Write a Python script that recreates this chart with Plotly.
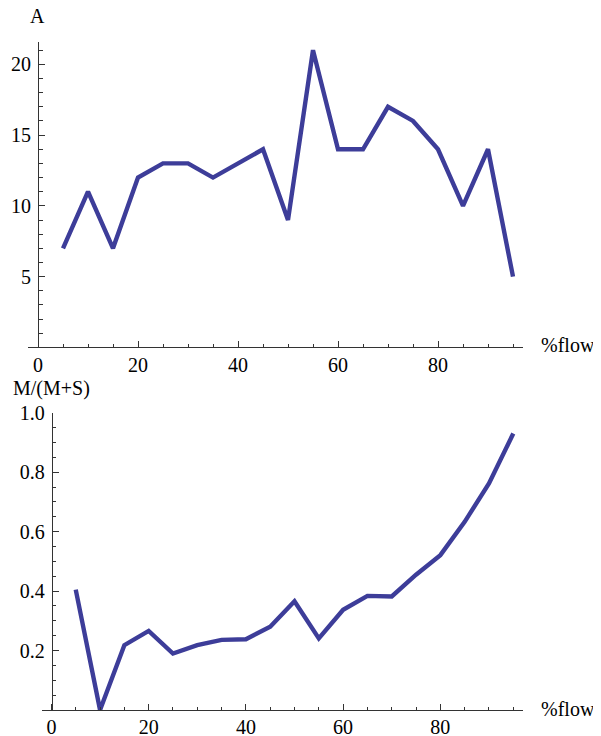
import plotly.graph_objects as go

flow = [5, 10, 15, 20, 25, 30, 35, 40, 45, 50, 55, 60, 65, 70, 75, 80, 85, 90, 95]
a_vals = [7, 11, 7, 12, 13, 13, 12, 13, 14, 9, 21, 14, 14, 17, 16, 14, 10, 14, 5]
ratio_vals = [0.405, 0.0, 0.218, 0.266, 0.19, 0.218, 0.236, 0.238, 0.28, 0.366, 0.241,
              0.337, 0.384, 0.382, 0.455, 0.521, 0.633, 0.762, 0.93]
x_ticks = [0, 20, 40, 60, 80]
top_y_ticks = [5, 10, 15, 20]
bot_y_ticks = [0.2, 0.4, 0.6, 0.8, 1.0]

OFF = 8  # page body margin
W, H = 601 - OFF, 736 - OFF
LINE = "rgb(61,61,153)"
AX = "#333333"
FONT = dict(family="Liberation Serif", size=20, color="black")

def px_x(p):
    return (p - OFF) / W

def px_y(p):
    return 1 - (p - OFF) / H

fig = go.Figure()
fig.add_trace(go.Scatter(x=flow, y=a_vals, mode="lines", xaxis="x", yaxis="y",
                         line=dict(color=LINE, width=4.4), cliponaxis=False, showlegend=False))
fig.add_trace(go.Scatter(x=flow, y=ratio_vals, mode="lines", xaxis="x2", yaxis="y2",
                         line=dict(color=LINE, width=4.4), cliponaxis=False, showlegend=False))

common_x = dict(showline=True, linecolor=AX, linewidth=1, ticks="inside", ticklen=6,
                tickcolor=AX, tickwidth=1, showgrid=False, zeroline=False, automargin=False,
                tickfont=FONT, tickvals=x_ticks, range=[-2, 97],
                minor=dict(ticks="inside", ticklen=3.5, tickcolor=AX, tickwidth=1,
                           tickvals=list(range(5, 100, 5))))

common_y = dict(showline=True, linecolor=AX, linewidth=1, ticks="inside", ticklen=6,
                tickcolor=AX, tickwidth=1, showgrid=False, zeroline=False, automargin=False,
                tickfont=FONT, anchor="free", ticklabelstandoff=3)

fig.update_layout(
    width=W, height=H,
    margin=dict(l=0, r=0, t=0, b=0, pad=0),
    paper_bgcolor="white", plot_bgcolor="white",
    xaxis=dict(common_x, domain=[px_x(28), px_x(523)], anchor="y"),
    yaxis=dict(common_y, domain=[px_y(347.4), px_y(41.7)], range=[0, 21.6],
               position=px_x(38), tickvals=top_y_ticks,
               minor=dict(ticks="inside", ticklen=3.5, tickcolor=AX, tickwidth=1,
                          tickvals=list(range(1, 22)))),
    xaxis2=dict(common_x, domain=[px_x(41.7), px_x(523)], anchor="y2", ticklabelstandoff=-1),
    yaxis2=dict(common_y, domain=[px_y(710), px_y(412.7)], range=[0, 1.0],
                position=px_x(51.7), tickvals=bot_y_ticks, tickformat=".1f",
                minor=dict(ticks="inside", ticklen=3.5, tickcolor=AX, tickwidth=1,
                           tickvals=[i * 0.05 for i in range(1, 21)])),
    annotations=[
        dict(text="A", x=px_x(37.7), y=px_y(15.7), xref="paper", yref="paper",
             showarrow=False, font=FONT, xanchor="center", yanchor="middle"),
        dict(text="%flow", x=px_x(568), y=px_y(345), xref="paper", yref="paper",
             showarrow=False, font=FONT, xanchor="center", yanchor="middle"),
        dict(text="M/(M+S)", x=px_x(51), y=px_y(388), xref="paper", yref="paper",
             showarrow=False, font=FONT, xanchor="center", yanchor="middle"),
        dict(text="%flow", x=px_x(568), y=px_y(709), xref="paper", yref="paper",
             showarrow=False, font=FONT, xanchor="center", yanchor="middle"),
    ],
)

fig.write_html("out.html")
